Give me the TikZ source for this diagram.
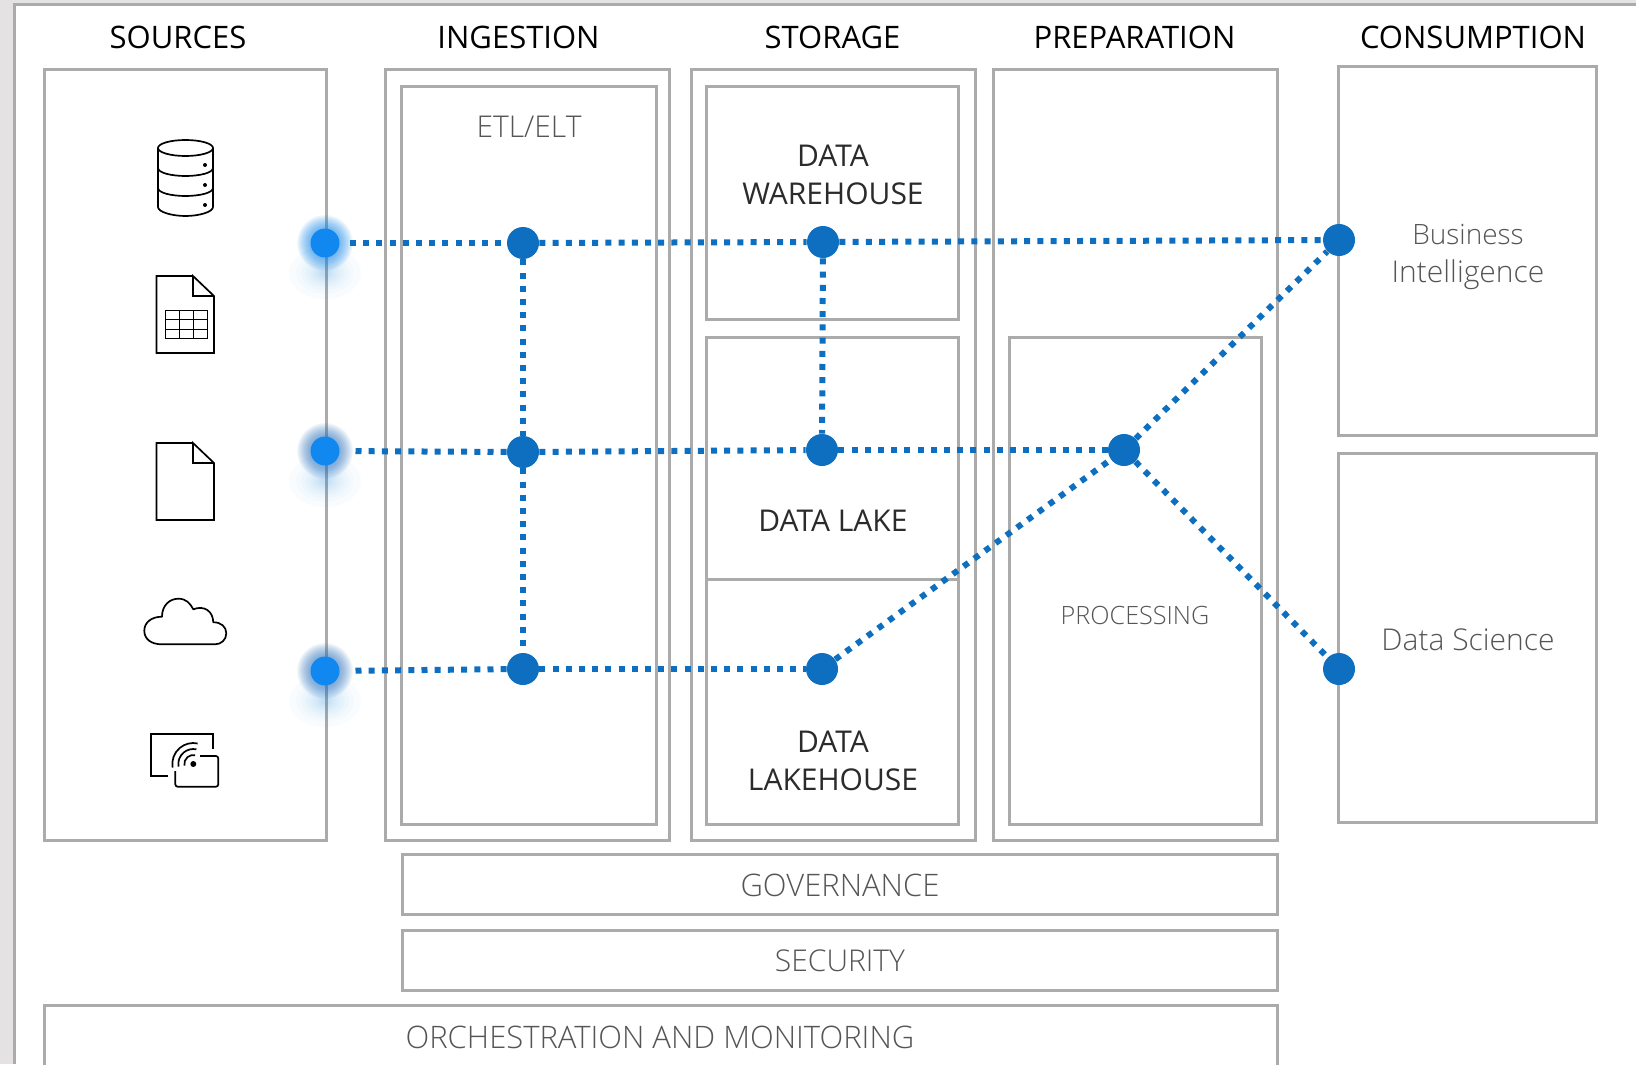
\documentclass[tikz,border=0pt]{standalone}
\usepackage{fontspec}
\setmainfont{Open Sans}
\newfontfamily\lightfont{Open Sans Light}
\usetikzlibrary{calc}
\definecolor{frameg}{HTML}{ABABAB}
\definecolor{bandg}{HTML}{E4E2E3}
\definecolor{flow}{HTML}{0E6FC0}
\definecolor{srcblue}{HTML}{1088F0}
\definecolor{dullblue}{HTML}{2A72BE}
\definecolor{lighttxt}{HTML}{555555}
\definecolor{medtxt}{HTML}{2B2B2B}
\tikzset{
  panel/.style={draw=frameg,line width=1.5pt,fill=white},
  head/.style={font=\fontsize{15.5}{18}\selectfont,text=black,inner sep=0pt,anchor=center},
  med/.style={font=\fontsize{15}{19.3}\selectfont,text=medtxt,inner sep=0pt,align=center,anchor=center},
  lite/.style={font=\lightfont\fontsize{15}{19}\selectfont,text=lighttxt,inner sep=0pt,align=center,anchor=center},
  litecap/.style={font=\lightfont\fontsize{15.5}{18.6}\selectfont,text=lighttxt,inner sep=0pt,align=center,anchor=center},
  lites/.style={font=\lightfont\fontsize{12.6}{15}\selectfont,text=lighttxt,inner sep=0pt,align=center,anchor=center},
  hub/.style={circle,fill=flow,minimum size=16pt,inner sep=0pt},
  srchub/.style={circle,fill=srcblue,minimum size=14.5pt,inner sep=0pt},
  flowline/.style={draw=flow,line width=3pt,dash pattern=on 3pt off 3.6pt},
  icon/.style={draw=black,line width=.85pt,line join=miter},
}
\newcommand{\glowat}[3]{%
  \foreach \r in {28,27,...,16}{\fill[#3,opacity=.055] (#1,#2) circle[radius=\r*0.5pt];}
  \foreach \r in {1,.8,.66,.55,.46,.38,.31,.25,.2,.15,.1}{\fill[srcblue,opacity=.022] (#1,#2+30) ellipse[x radius=\r*18pt,y radius=\r*13pt];}
}
\begin{document}
\begin{tikzpicture}[x=0.5pt,y=-0.5pt]
\useasboundingbox (0,0) rectangle (1636,1064);
\fill[white] (0,0) rectangle (1636,1064);
\fill[bandg] (0,0) rectangle (1636,4);
\fill[bandg] (0,0) rectangle (14,1064);
\draw[frameg,line width=1.5pt] (14.5,1064) -- (14.5,4.5) -- (1636,4.5);

% panels
\draw[panel] (44,70) rectangle (326.8,840);
\draw[panel] (385,70) rectangle (669.5,840);
\draw[panel] (401.5,87) rectangle (656.8,824);
\draw[panel] (691,70) rectangle (975.5,840);
\draw[panel] (706.5,87) rectangle (958.8,319);
\draw[panel] (706.5,337) rectangle (958.8,824);
\draw[panel] (706.5,579) -- (958.8,579);
\draw[panel] (993,70) rectangle (1277.5,840);
\draw[panel] (1009,337) rectangle (1261.5,824);
\draw[panel] (1338.5,67) rectangle (1596.8,435);
\draw[panel] (1338.5,453) rectangle (1596.8,822);
\draw[panel] (402,854.2) rectangle (1277.5,914);
\draw[panel] (402,930.2) rectangle (1277.5,990);
\draw[panel] (44,1005.2) rectangle (1277.5,1070);

% headings
\node[head] (tsrc) at (178,37) {SOURCES};
\node[head] (ting) at (518.5,37) {INGESTION};
\node[head] (tsto) at (832.5,37) {STORAGE};
\node[head] (tpre) at (1134.5,37) {PREPARATION};
\node[head] (tcon) at (1473,37) {CONSUMPTION};

% labels
\node[lite] (etl) at (529,127) {ETL/ELT};
\node[med] (dw) at (833,175) {DATA\\WAREHOUSE};
\node[med] (dlk) at (833,521) {DATA LAKE};
\node[med] (dlh) at (833,761) {DATA\\LAKEHOUSE};
\node[lites] (proc) at (1135,615) {PROCESSING};
\node[lite] (bi) at (1468,256.5) {{\fontsize{14}{19}\selectfont Business}\\Intelligence};
\node[lite] (ds) at (1468,639.5) {Data Science};
\node[litecap] (gov) at (840,885) {GOVERNANCE};
\node[lite] (sec) at (840,961) {SECURITY};
\node[litecap] (orc) at (660,1037) {ORCHESTRATION AND MONITORING};

% database icon
\draw[icon] (185.5,148) ellipse[x radius=13.75pt,y radius=4pt];
\draw[icon] (158,148) -- (158,207) .. controls (158,212) and (172,216) .. (185.5,216) .. controls (199,216) and (213,212) .. (213,207) -- (213,148);
\draw[icon] (158,168) .. controls (158,173) and (172,176) .. (185.5,176) .. controls (199,176) and (213,173) .. (213,168);
\draw[icon] (158,188) .. controls (158,193) and (172,196) .. (185.5,196) .. controls (199,196) and (213,193) .. (213,188);
\foreach \yy in {165,185,205}{\fill (205,\yy) circle[radius=1pt];}

% table document icon
\draw[icon] (193,276) -- (156.5,276) -- (156.5,353) -- (214,353) -- (214,296) -- (193,276) -- (193,296) -- (214,296);
\draw[black,line width=.5pt] (165,310) rectangle (207,338);
\draw[black,line width=.5pt] (179.5,310) -- (179.5,338) (193,310) -- (193,338) (165,319.5) -- (207,319.5) (165,329) -- (207,329);

% document icon
\draw[icon] (193,443) -- (156.5,443) -- (156.5,520) -- (214,520) -- (214,463) -- (193,443) -- (193,463) -- (214,463);

% cloud icon
\draw[icon,line cap=round,line join=round] (161.7,644.3) .. controls (151,644.3) and (144.3,639) .. (144.3,630.7)
  .. controls (144.3,622) and (152,616.7) .. (162,616.7)
  .. controls (162,605) and (170,598.7) .. (178.3,598.7)
  .. controls (186,598.7) and (190,603) .. (193.3,609.3)
  .. controls (204,605) and (213,611) .. (213.3,622.3)
  .. controls (221,622) and (226.3,627) .. (226.3,633.3)
  .. controls (226.3,640) and (221,644.3) .. (215,644.3) -- cycle;

% wireless icon
\draw[icon] (168.3,776) -- (151.3,776) -- (151.3,734) -- (213.3,734) -- (213.3,749);
\draw[icon,rounded corners=1.2pt] (200,756) -- (218.3,756) -- (218.3,786.7) -- (175.3,786.7) -- (175.3,771);
\coordinate (wc) at (193.3,764);
\fill (wc) circle[radius=1.5pt];
\draw[icon] ([shift={(190:4.5pt)}]wc) arc[start angle=190,end angle=78,radius=4.5pt];
\draw[icon] ([shift={(190:7.5pt)}]wc) arc[start angle=190,end angle=78,radius=7.5pt];
\draw[icon] ([shift={(190:10.5pt)}]wc) arc[start angle=190,end angle=78,radius=10.5pt];

% glows
\glowat{325}{243}{srcblue}
\glowat{325}{451}{dullblue}
\glowat{325}{671}{dullblue}

% hubs
\node[srchub] (s1) at (325,243) {};
\node[srchub] (s2) at (325,451) {};
\node[srchub] (s3) at (325,671) {};
\node[hub] (i1) at (523,243) {};
\node[hub] (i2) at (523,452) {};
\node[hub] (i3) at (523,669) {};
\node[hub] (w) at (823,242) {};
\node[hub] (l) at (822,450) {};
\node[hub] (h) at (822,669) {};
\node[hub] (p) at (1124,450) {};
\node[hub] (cbi) at (1339,240) {};
\node[hub] (cds) at (1339,669) {};

% connectors
\draw[flowline,shorten <=5pt] (s1) -- (i1);
\draw[flowline,shorten <=7.8pt] (s2) -- (i2);
\draw[flowline,shorten <=7.8pt] (s3) -- (i3);
\draw[flowline] (i1) -- (w);
\draw[flowline] (w) -- (cbi);
\draw[flowline] (i2) -- (l);
\draw[flowline] (l) -- (p);
\draw[flowline] (i3) -- (h);
\draw[flowline] (h) -- (p);
\draw[flowline] (p) -- (cbi);
\draw[flowline] (p) -- (cds);
\draw[flowline] (i1) -- (i2);
\draw[flowline] (i2) -- (i3);
\draw[flowline] (w) -- (l);
\end{tikzpicture}
\end{document}
